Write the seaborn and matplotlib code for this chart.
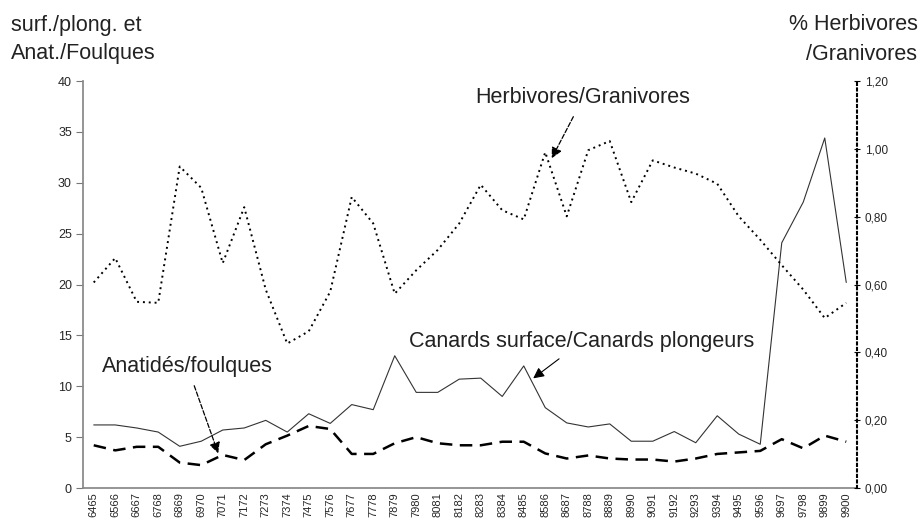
import numpy as np
import pandas as pd
import seaborn as sns
import matplotlib.pyplot as plt
from matplotlib.ticker import FixedLocator

# Season labels (winters 1964/65 ... 1999/00)
seasons = ['6465', '6566', '6667', '6768', '6869', '6970', '7071', '7172', '7273',
           '7374', '7475', '7576', '7677', '7778', '7879', '7980', '8081', '8182',
           '8283', '8384', '8485', '8586', '8687', '8788', '8889', '8990', '9091',
           '9192', '9293', '9394', '9495', '9596', '9697', '9798', '9899', '9900']

# Canards surface / Canards plongeurs (left axis)
surf_plong = [6.2, 6.2, 5.9, 5.5, 4.1, 4.6, 5.7, 5.9, 6.65, 5.5, 7.3, 6.35,
              8.2, 7.7, 13.0, 9.4, 9.4, 10.7, 10.8, 9.0, 12.0, 7.9, 6.4, 6.0,
              6.3, 4.6, 4.6, 5.55, 4.45, 7.1, 5.3, 4.3, 24.1, 28.1, 34.4, 20.2]

# Anatidés / foulques (left axis)
anat_foulques = [4.2, 3.7, 4.05, 4.05, 2.5, 2.25, 3.25, 2.75, 4.3, 5.15, 6.1, 5.8,
                 3.35, 3.35, 4.4, 5.0, 4.4, 4.2, 4.2, 4.55, 4.55, 3.4, 2.9, 3.2,
                 2.9, 2.8, 2.8, 2.6, 2.9, 3.35, 3.5, 3.65, 4.8, 3.9, 5.15, 4.55]

# Herbivores / Granivores (right axis)
herb_gran = [0.606, 0.678, 0.549, 0.546, 0.948, 0.885, 0.663, 0.828, 0.585, 0.426,
             0.462, 0.579, 0.858, 0.780, 0.573, 0.642, 0.702, 0.780, 0.894, 0.819,
             0.792, 0.990, 0.801, 0.996, 1.023, 0.843, 0.966, 0.945, 0.927, 0.897,
             0.801, 0.732, 0.657, 0.585, 0.501, 0.546]

df = pd.DataFrame({'idx': np.arange(len(seasons)), 'season': seasons,
                   'surf': surf_plong, 'anat': anat_foulques, 'herb': herb_gran})

sns.set_theme(style='white')
plt.rcParams['font.family'] = ['Liberation Sans', 'DejaVu Sans']

fig = plt.figure(figsize=(9.23, 5.21), dpi=100)
ax = fig.add_axes([0.0899, 0.0633, 0.8386, 0.7812])
ax2 = ax.twinx()

# left axis series
sns.lineplot(data=df, x='idx', y='surf', ax=ax, color='#333333', linewidth=0.8, sort=False)
sns.lineplot(data=df, x='idx', y='anat', ax=ax, color='black', linewidth=1.8,
             linestyle=(0, (5, 3)), sort=False)
# right axis series
sns.lineplot(data=df, x='idx', y='herb', ax=ax2, color='black', linewidth=1.4,
             linestyle=(0, (1, 2)), sort=False)

n = len(seasons)
ax.set_xlim(-0.5, n - 0.5)
ax.set_ylim(0, 40)
ax2.set_ylim(0, 1.2)

ax.set_xticks(np.arange(n))
ax.set_xticklabels(seasons, rotation=90, fontsize=8)
ax.tick_params(axis='x', which='major', length=0, pad=3)
ax.xaxis.set_minor_locator(FixedLocator(np.arange(n + 1) - 0.5))
ax.tick_params(axis='x', which='minor', length=6, direction='inout', color='#777777', width=0.8)
ax.set_xlabel('')
ax.set_ylabel('')
ax2.set_ylabel('')

ax.set_yticks(np.arange(0, 41, 5))
ax.tick_params(axis='y', labelsize=9, length=5, direction='out', color='#777777', width=0.8, pad=3)
ax2.set_yticks(np.arange(0, 1.21, 0.2))
ax2.set_yticklabels([f'{v:.2f}'.replace('.', ',') for v in np.arange(0, 1.21, 0.2)])
ax2.tick_params(axis='y', labelsize=8.5, length=5, direction='inout', color='black', width=0.8, pad=3)

for a in (ax, ax2):
    a.spines['top'].set_visible(False)
ax.spines['left'].set_color('#888888')
ax.spines['bottom'].set_color('#888888')
ax.spines['right'].set_visible(False)
ax2.spines['left'].set_visible(False)
ax2.spines['bottom'].set_visible(False)
ax2.spines['right'].set_color('black')
ax2.spines['right'].set_linestyle(':')
ax2.spines['right'].set_linewidth(1.5)

# axis titles
fig.text(0.012, 1 - 25 / 521, 'surf./plong. et', fontsize=15.5, ha='left', va='center', color='#222222')
fig.text(0.012, 1 - 54 / 521, 'Anat./Foulques', fontsize=15.5, ha='left', va='center', color='#222222')
fig.text(0.994, 1 - 25 / 521, '% Herbivores', fontsize=15.5, ha='right', va='center', color='#222222')
fig.text(0.994, 1 - 54 / 521, '/Granivores', fontsize=15.5, ha='right', va='center', color='#222222')

# annotations
ax2.annotate('Herbivores/Granivores', xy=(21.3, 0.972), xytext=(22.76, 1.15),
             fontsize=15.5, ha='center', va='center', color='#222222',
             arrowprops=dict(arrowstyle='-|>', color='black', lw=0.9, linestyle='--',
                             mutation_scale=16, shrinkA=4, shrinkB=0))
ax.annotate('Canards surface/Canards plongeurs', xy=(20.44, 10.78), xytext=(22.7, 14.38),
            fontsize=15.5, ha='center', va='center', color='#222222',
            arrowprops=dict(arrowstyle='-|>', color='black', lw=0.8,
                            mutation_scale=16, shrinkA=4, shrinkB=0))
ax.annotate('Anatidés/foulques', xy=(5.79, 3.41), xytext=(4.36, 11.92),
            fontsize=15.5, ha='center', va='center', color='#222222',
            arrowprops=dict(arrowstyle='-|>', color='black', lw=0.9, linestyle='--',
                            mutation_scale=16, shrinkA=4, shrinkB=0))

fig.savefig('out.png', dpi=100)
